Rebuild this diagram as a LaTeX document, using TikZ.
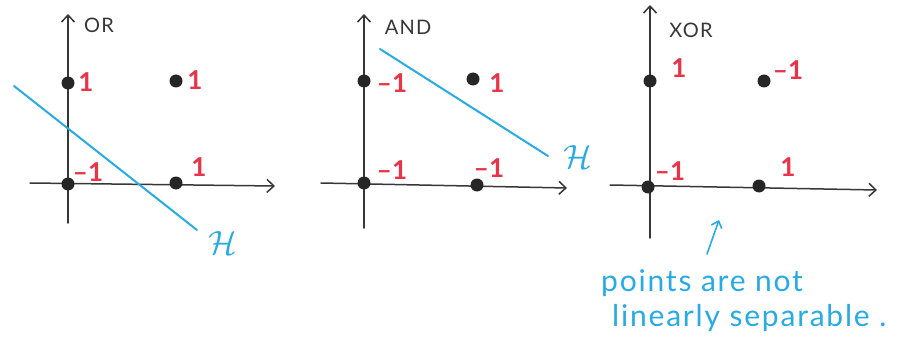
\documentclass[tikz,border=0pt]{standalone}
\usepackage{fontspec}
\setmainfont{Lato}
\usetikzlibrary{arrows.meta}
\definecolor{pen}{RGB}{55,55,55}
\definecolor{redink}{RGB}{232,52,72}
\definecolor{blueink}{RGB}{40,170,228}
\newcommand{\hypH}{\scalebox{1.35}{$\mathcal{H}$}}
\tikzset{
  axis/.style={draw=pen, line width=1.5pt, line cap=round, -{Straight Barb[length=7pt,width=13pt]}},
  dot/.style={circle, fill=black!85, inner sep=0pt, minimum size=13pt},
  lab/.style={text=redink, font=\fontsize{26}{26}\selectfont\bfseries, inner sep=0pt},
  axlab/.style={text=pen, font=\fontsize{20}{20}\selectfont\addfontfeatures{LetterSpace=6}, inner sep=0pt},
  hyper/.style={draw=blueink, line width=2pt, line cap=round},
  hlab/.style={text=blueink, font=\fontsize{24}{24}\selectfont, inner sep=0pt},
  note/.style={text=blueink, font=\fontsize{30}{30}\selectfont\addfontfeatures{LetterSpace=6}, inner sep=0pt, anchor=west},
  pointer/.style={draw=blueink, line width=1.6pt, line cap=round, -{Straight Barb[length=6pt,width=11pt]}}
}
\begin{document}
\begin{tikzpicture}[x=1pt,y=-1pt]
\useasboundingbox (0,0) rectangle (899,350);
% ---------- OR ----------
\coordinate (ya1) at (68,223); \coordinate (yb1) at (68,14);
\coordinate (xa1) at (30,183); \coordinate (xb1) at (275,186);
\draw[axis] (ya1) -- (yb1);
\draw[axis] (xa1) -- (xb1);
\node[axlab] (or) at (99,25) {OR};
\node[dot] (p01a) at (68,83) {};
\node[dot] (p11a) at (176,81) {};
\node[dot] (p00a) at (68,184) {};
\node[dot] (p10a) at (176,183) {};
\node[lab] (l01a) at (86,82) {1};
\node[lab] (l11a) at (195,80) {1};
\node[lab] (l00a) at (88,172) {–1};
\node[lab] (l10a) at (199,167) {1};
\coordinate (ha1) at (14,86); \coordinate (hb1) at (197,230);
\draw[hyper] (ha1) -- (hb1);
\node[hlab] (h1) at (223,243) {\hypH};
% ---------- AND ----------
\coordinate (ya2) at (364,228); \coordinate (yb2) at (364,14);
\coordinate (xa2) at (321,183); \coordinate (xb2) at (567,188);
\draw[axis] (ya2) -- (yb2);
\draw[axis] (xa2) -- (xb2);
\node[axlab] (and) at (408,27) {AND};
\node[dot] (p01b) at (364,81) {};
\node[dot] (p11b) at (473,79) {};
\node[dot] (p00b) at (364,183) {};
\node[dot] (p10b) at (477,185) {};
\node[lab] (l01b) at (392,83) {–1};
\node[lab] (l11b) at (497,83) {1};
\node[lab] (l00b) at (392,170) {–1};
\node[lab] (l10b) at (489,168) {–1};
\coordinate (ha2) at (380,49); \coordinate (hb2) at (548,156);
\draw[hyper] (ha2) -- (hb2);
\node[hlab] (h2) at (578,157) {\hypH};
% ---------- XOR ----------
\coordinate (ya3) at (650,238); \coordinate (yb3) at (650,5);
\coordinate (xa3) at (610,185); \coordinate (xb3) at (877,190);
\draw[axis] (ya3) -- (yb3);
\draw[axis] (xa3) -- (xb3);
\node[axlab] (xor) at (691,30) {XOR};
\node[dot] (p01c) at (650,81) {};
\node[dot] (p11c) at (764,81) {};
\node[dot] (p00c) at (648,187) {};
\node[dot] (p10c) at (759,186) {};
\node[lab] (l01c) at (679,68) {1};
\node[lab] (l11c) at (788,70) {–1};
\node[lab] (l00c) at (670,171) {–1};
\node[lab] (l10c) at (788,167) {1};
\coordinate (pa) at (707,254); \coordinate (pb) at (719,220);
\draw[pointer] (pa) -- (pb);
\node[note] (n1) at (601,283) {points are not};
\node[note] (n2) at (612,318) {linearly separable .};
\end{tikzpicture}
\end{document}
